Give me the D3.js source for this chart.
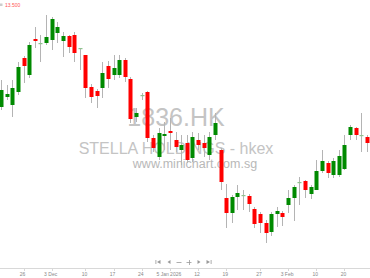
<!DOCTYPE html>
<html><head><meta charset="utf-8">
<script src="https://cdn.jsdelivr.net/npm/d3@7"></script>
<style>html,body{margin:0;padding:0;background:#fff;}svg{display:block;font-family:"Liberation Sans",Arial,sans-serif;}</style>
</head><body>
<svg id="c" width="370" height="278"></svg>
<script>
// Daily OHLC, 1836.HK (index 0 = 26 Nov 2025)
const startIndex = -4;
const opens  = [13.86,13.96,13.88,14.01,14.35,14.18,14.54,14.50,14.50,14.53,14.60,14.52,14.57,14.58,14.45,14.38,14.06,14.02,14.05,14.27,14.18,14.18,14.33,14.14,13.76,13.98,14.01,13.55,13.36,13.57,13.62,13.53,13.43,13.50,13.35,13.53,13.50,13.38,13.58,13.43,12.95,12.80,12.96,12.98,12.97,12.84,12.79,12.70,12.61,12.79,12.80,12.88,12.95,13.11,13.12,12.99,13.03,13.22,13.30,13.18,13.18,13.24,13.58,13.65,13.58,13.56];
const highs  = [14.13,14.08,14.13,14.31,14.37,14.51,14.66,14.58,14.78,14.76,14.71,14.61,14.58,14.61,14.45,14.38,14.09,14.04,14.31,14.32,14.38,14.38,14.35,14.16,13.85,14.00,14.02,13.58,13.65,13.71,13.75,13.61,13.58,13.58,13.61,13.60,13.58,13.61,13.80,13.45,13.09,12.98,13.08,13.03,12.99,12.86,12.81,12.73,12.81,12.86,12.82,13.03,13.08,13.16,13.13,13.08,13.33,13.43,13.32,13.35,13.43,13.58,13.68,13.66,13.80,13.58];
const lows   = [13.83,13.93,13.76,13.98,14.10,14.15,14.45,14.31,14.48,14.43,14.50,14.36,14.40,14.31,14.23,13.95,13.90,13.85,13.95,14.05,14.13,14.15,14.11,13.70,13.71,13.93,13.51,13.41,13.33,13.43,13.43,13.41,13.28,13.30,13.31,13.43,13.36,13.33,13.53,13.03,12.65,12.70,12.83,12.83,12.81,12.65,12.60,12.50,12.57,12.66,12.67,12.80,12.72,12.88,12.95,12.94,13.03,13.20,13.15,13.15,13.16,13.23,13.53,13.53,13.41,13.41];
const closes = [14.03,13.99,14.05,14.26,14.27,14.48,14.52,14.50,14.56,14.74,14.66,14.57,14.46,14.40,14.45,14.05,13.96,13.97,14.20,14.14,14.25,14.33,14.16,13.74,13.80,13.98,13.55,13.45,13.60,13.59,13.60,13.46,13.48,13.33,13.56,13.48,13.45,13.56,13.70,13.11,12.80,12.96,13.00,12.98,12.89,12.69,12.70,12.60,12.79,12.82,12.76,12.95,13.06,13.11,13.03,13.06,13.22,13.32,13.20,13.32,13.37,13.48,13.66,13.58,13.58,13.50];
const tickIndex  = [0, 5, 11, 16, 21, 26, 31, 36, 42, 47, 52, 57];
const tickLabels = ["26", "3 Dec", "10", "17", "24", "5 Jan 2026", "12", "19", "27", "3 Feb", "10", "20"];
const symbol = "1836.HK";
const company = "STELLA HOLDINGS - hkex";
const site = "www.minichart.com.sg";
const lastPrice = "13.500";

const W = 370, H = 278, axisY = 268;
const svg = d3.select("#c");
const data = opens.map((o, k) => ({i: startIndex + k, o, h: highs[k], l: lows[k], c: closes[k]}));

const x = d3.scaleLinear().domain([0, 61]).range([23.5, 23.5 + 5.63 * 61]);
const y = d3.scaleLinear().domain([12.25, 14.93]).range([268, 0]);

// watermark
const wm = svg.append("g").attr("fill", "#c4c4c4").attr("text-anchor", "middle");
wm.append("text").attr("x", 176).attr("y", 126).attr("font-size", 25).text(symbol);
wm.append("text").attr("x", 176).attr("y", 154).attr("font-size", 16).text(company);
wm.append("text").attr("x", 195).attr("y", 168).attr("font-size", 12.5).attr("fill", "#b8b8b8").text(site);

// candles
const g = svg.append("g");
g.selectAll("line.w").data(data).join("line").attr("class", "w")
  .attr("x1", d => Math.round(x(d.i)) + 0.5).attr("x2", d => Math.round(x(d.i)) + 0.5)
  .attr("y1", d => y(d.h)).attr("y2", d => y(d.l))
  .attr("stroke", "#b4b4b4").attr("stroke-width", 1);
g.selectAll("rect.b").data(data).join("rect").attr("class", "b")
  .attr("x", d => Math.round(x(d.i)) - 1.5).attr("width", 4)
  .attr("y", d => y(Math.max(d.o, d.c)))
  .attr("height", d => Math.max(1.2, Math.abs(y(d.o) - y(d.c))))
  .attr("fill", d => d.c > d.o ? "#008a00" : (d.c < d.o ? "#ff0000" : "#8fc48f"));

// x axis
const ax = svg.append("g");
ax.append("line").attr("x1", 0).attr("x2", W).attr("y1", axisY + 0.5).attr("y2", axisY + 0.5).attr("stroke", "#d8d8d8");
ax.selectAll("line.t").data(tickIndex).join("line").attr("class", "t")
  .attr("x1", d => Math.round(x(d)) + 0.5).attr("x2", d => Math.round(x(d)) + 0.5)
  .attr("y1", axisY).attr("y2", axisY + 3).attr("stroke", "#d8d8d8");
ax.selectAll("text").data(tickIndex).join("text")
  .attr("x", d => x(d) - 1).attr("y", 275.5).attr("text-anchor", "middle")
  .attr("font-size", 5).attr("fill", "#888").text((d, k) => tickLabels[k]);

// navigation buttons
const nav = svg.append("g").attr("fill", "#999").attr("stroke", "#999");
const ny = 262, nx = [158, 169, 179, 189, 199, 209];
nav.append("rect").attr("x", nx[0]-2.5).attr("y", ny-2).attr("width", 0.8).attr("height", 4).attr("stroke", "none");
nav.append("path").attr("d", `M${nx[0]+2.5},${ny-2}L${nx[0]-1},${ny}L${nx[0]+2.5},${ny+2}Z`).attr("stroke", "none");
nav.append("path").attr("d", `M${nx[1]+1.5},${ny-2}L${nx[1]-1.5},${ny}L${nx[1]+1.5},${ny+2}Z`).attr("stroke", "none");
nav.append("line").attr("x1", nx[2]-2.5).attr("x2", nx[2]+2.5).attr("y1", ny+0.5).attr("y2", ny+0.5).attr("stroke-width", 0.8);
nav.append("line").attr("x1", nx[3]-2.5).attr("x2", nx[3]+2.5).attr("y1", ny+0.5).attr("y2", ny+0.5).attr("stroke-width", 0.8);
nav.append("line").attr("x1", nx[3]+0.5).attr("x2", nx[3]+0.5).attr("y1", ny-2).attr("y2", ny+3).attr("stroke-width", 0.8);
nav.append("path").attr("d", `M${nx[4]-1.5},${ny-2}L${nx[4]+1.5},${ny}L${nx[4]-1.5},${ny+2}Z`).attr("stroke", "none");
nav.append("path").attr("d", `M${nx[5]-2.5},${ny-2}L${nx[5]+1},${ny}L${nx[5]-2.5},${ny+2}Z`).attr("stroke", "none");
nav.append("rect").attr("x", nx[5]+1.7).attr("y", ny-2).attr("width", 0.8).attr("height", 4).attr("stroke", "none");

// top-left price readout
svg.append("rect").attr("x", 0).attr("y", 3.5).attr("width", 2.5).attr("height", 2.5).attr("fill", "#ccc");
svg.append("text").attr("x", 5).attr("y", 7).attr("font-size", 5).attr("fill", "#ff5555").text(lastPrice);
</script>
</body></html>
